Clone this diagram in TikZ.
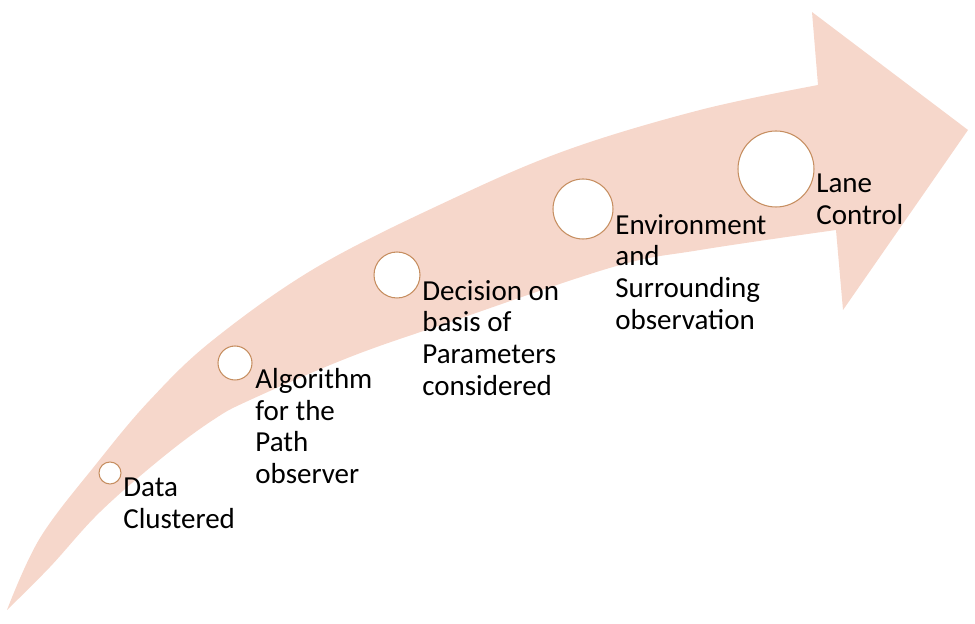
\documentclass[tikz,border=0pt]{standalone}
\usepackage{fontspec}
\setmainfont{Carlito}
\usepackage{xcolor}
\usepackage{tikz}
\usetikzlibrary{positioning}

\definecolor{bandpink}{RGB}{246,215,203}
\definecolor{ringbrown}{RGB}{198,142,96}

\begin{document}
\begin{tikzpicture}[
  x=0.02cm, y=-0.02cm,
  stage/.style={circle, draw=ringbrown, line width=0.6pt, fill=white, inner sep=0pt, minimum size=#1},
  txt/.style={align=left, inner sep=0pt, font=\fontsize{16.5}{18}\selectfont, text=black}
]
\useasboundingbox (0,0) rectangle (975,624);

% ── Curved arrow band ────────────────────────────────────────
\fill[bandpink]
  plot[smooth, tension=0.6] coordinates {(7,610) (40,538) (97,463) (150,400) (213,340) (317,267) (450,200) (567,150) (700,110) (818,85)}
  -- (812,12) -- (968,130) -- (843,310)
  -- plot[smooth, tension=0.6] coordinates {(836,230) (700,250) (613,267) (450,322) (350,357) (250,400) (213,420) (163,457) (100,512) (50,567) (7,610)}
  -- cycle;

% ── Stages ───────────────────────────────────────────────────
\node[stage=0.44cm] (data) at (110,473) {};
\node[stage=0.68cm] (algo) at (235,363) {};
\node[stage=0.92cm] (dec)  at (397,275) {};
\node[stage=1.20cm] (env)  at (583,209) {};
\node[stage=1.52cm] (lane) at (776,169) {};

% ── Stage labels ─────────────────────────────────────────────
\node[txt, below right=0.1cm and 0.03cm of data.east] (data_txt) {Data\\Clustered};
\node[txt, below right=0.1cm and 0.05cm of algo.east] (algo_txt) {Algorithm\\for the\\Path\\observer};
\node[txt, below right=0.1cm and 0.03cm of dec.east]  (dec_txt)  {Decision on\\basis of\\Parameters\\considered};
\node[txt, below right=0.1cm and 0.03cm of env.east]  (env_txt)  {Environment\\and\\Surrounding\\observation};
\node[txt, below right=0.1cm and 0.03cm of lane.east] (lane_txt) {Lane\\Control};

\end{tikzpicture}
\end{document}
